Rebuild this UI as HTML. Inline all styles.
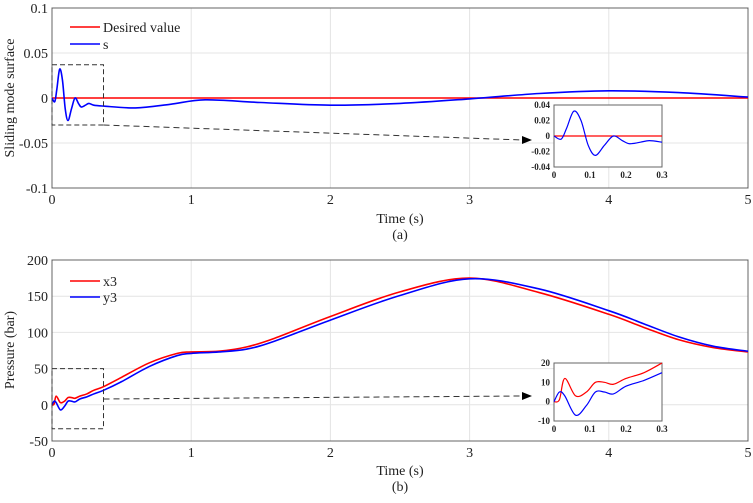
<!DOCTYPE html>
<html><head><meta charset="utf-8"><style>
body{margin:0;background:#fff;}
svg, svg text{font-family:"Liberation Serif","DejaVu Serif",serif;}
</style></head><body>
<svg id="c" width="753" height="498"></svg>
<script>
// ---- data ----
const sT=[0,0.02,0.035,0.055,0.075,0.095,0.115,0.14,0.165,0.19,0.21,0.24,0.265,0.3,0.37,0.6,0.85,1.1,1.5,2.0,2.5,3.0,3.5,4.0,4.5,5.0];
const sV=[0,-0.004,0.01,0.032,0.02,-0.012,-0.025,-0.012,0,-0.006,-0.01,-0.008,-0.006,-0.008,-0.009,-0.011,-0.007,-0.002,-0.005,-0.008,-0.006,-0.001,0.005,0.008,0.006,0.001];
const pT=[0,0.015,0.03,0.06,0.09,0.115,0.14,0.165,0.2,0.25,0.3,0.37,0.5,0.7,0.9,1.0,1.2,1.4,1.6,2.0,2.5,3.0,3.5,4.0,4.25,4.5,4.75,5.0];
const x3V=[0,1,12,3,5,10,10,9,12,15,20,25,38,58,71,73,74,80,92,122,156,175,155,125,107,90,79,73];
const y3V=[0,5,3,-7,-2,5,5,4,8,11,15,20,32,53,68,71,73,77,88,117,151,174,160,130,112,94,81,74];
const topTicksY=["0.1","0.05","0","-0.05","-0.1"], topTickVals=[0.1,0.05,0,-0.05,-0.1];
const botTickVals=[200,150,100,50,0,-50];
const xTickVals=[0,1,2,3,4,5];
const insTopY=[0.04,0.02,0,-0.02,-0.04], insTopYL=["0.04","0.02","0","-0.02","-0.04"];
const insBotY=[20,10,0,-10];
const insX=[0,0.1,0.2,0.3];

const svg=document.getElementById('c');const NS='http://www.w3.org/2000/svg';
function el(t,a,p){const e=document.createElementNS(NS,t);for(const k in a)e.setAttribute(k,a[k]);(p||svg).appendChild(e);return e;}
function txt(x,y,s,a,size,w){const e=el('text',{x:x,y:y,'text-anchor':a||'middle','font-size':size||14,'font-weight':w||'normal',fill:'#222','font-family':'Liberation Serif, DejaVu Serif, serif'});e.textContent=s;return e;}
function lin(d0,d1,r0,r1){return v=>r0+(v-d0)/(d1-d0)*(r1-r0);}
function path(xs,ys,X,Y,xmax){
  const P=[];for(let i=0;i<xs.length;i++){if(xmax!==undefined&&xs[i]>xmax+1e-9)break;P.push([X(xs[i]),Y(ys[i])]);}
  let d='M'+P[0][0]+','+P[0][1];
  for(let i=0;i<P.length-1;i++){const p0=P[Math.max(0,i-1)],p1=P[i],p2=P[i+1],p3=P[Math.min(P.length-1,i+2)];
    d+=' C'+(p1[0]+(p2[0]-p0[0])/6)+','+(p1[1]+(p2[1]-p0[1])/6)+' '+(p2[0]-(p3[0]-p1[0])/6)+','+(p2[1]-(p3[1]-p1[1])/6)+' '+p2[0]+','+p2[1];}
  return d;}
const L=52,R=748;
const X=lin(0,5,L,R);
function axes(top,bot,yvals,ylabels,Y){
  el('rect',{x:L,y:top,width:R-L,height:bot-top,fill:'#fff',stroke:'#444','stroke-width':0.8});
  xTickVals.forEach(v=>{const g=el('line',{x1:X(v),x2:X(v),y1:top,y2:bot,stroke:'#e4e4e4'});
    const t=txt(X(v),bot+16,String(v));});
  yvals.forEach((v,i)=>{el('line',{x1:L,x2:R,y1:Y(v),y2:Y(v),stroke:'#e4e4e4'});
    const t=txt(L-4,Y(v)+5,ylabels[i],'end');});
  el('rect',{x:L,y:top,width:R-L,height:bot-top,fill:'none',stroke:'#444','stroke-width':0.8});
}
// ---- top panel ----
const Yt=lin(-0.1,0.1,188,8);
axes(8,188,topTickVals,topTicksY,Yt);
el('line',{x1:L,x2:R,y1:Yt(0),y2:Yt(0),stroke:'#f00','stroke-width':1.5,});
el('path',{d:path(sT,sV,X,Yt),fill:'none',stroke:'#00f','stroke-width':1.6,});
el('line',{x1:70,x2:100,y1:27,y2:27,stroke:'#f00','stroke-width':1.5});txt(103,32,'Desired value','start');
el('line',{x1:70,x2:100,y1:44,y2:44,stroke:'#00f','stroke-width':1.6});txt(103,49,'s','start');
el('rect',{x:X(0),y:Yt(0.037),width:X(0.37)-X(0),height:Yt(-0.03)-Yt(0.037),fill:'none',stroke:'#333','stroke-dasharray':'5,3',});
el('line',{x1:X(0.37),y1:Yt(-0.03),x2:522,y2:140,stroke:'#333','stroke-dasharray':'6,4'});
el('polygon',{points:'532,140 522,136 522,144',fill:'#000'});
txt(400,223,'Time (s)');
txt(400,239,'(a)');
const ya=txt(0,0,'Sliding mode surface');ya.setAttribute('transform','translate(14,98) rotate(-90)');
{const iX=lin(0,0.3,554,662),iY=lin(-0.04,0.04,167,105);
 el('rect',{x:554,y:105,width:108,height:62,fill:'#fff',stroke:'#666',});
 insTopY.forEach((v,i)=>{txt(550,iY(v)+3,insTopYL[i],'end',9,'bold');});
 insX.forEach(v=>txt(iX(v),178,String(v),'middle',9,'bold'));
 el('line',{x1:554,x2:662,y1:iY(0),y2:iY(0),stroke:'#f00','stroke-width':1.2});
 el('path',{d:path(sT,sV,iX,iY,0.3),fill:'none',stroke:'#00f','stroke-width':1.2});}
// ---- bottom panel ----
const Yb=lin(-50,200,441,260);
axes(260,441,botTickVals,botTickVals.map(String),Yb);
el('path',{d:path(pT,x3V,X,Yb),fill:'none',stroke:'#f00','stroke-width':1.6,});
el('path',{d:path(pT,y3V,X,Yb),fill:'none',stroke:'#00f','stroke-width':1.6,});
el('line',{x1:70,x2:100,y1:281,y2:281,stroke:'#f00','stroke-width':1.5});txt(103,286,'x3','start');
el('line',{x1:70,x2:100,y1:297,y2:297,stroke:'#00f','stroke-width':1.6});txt(103,302,'y3','start');
el('rect',{x:X(0),y:Yb(50),width:X(0.37)-X(0),height:Yb(-33)-Yb(50),fill:'none',stroke:'#333','stroke-dasharray':'5,3',});
el('line',{x1:X(0.37),y1:Yb(8),x2:522,y2:396,stroke:'#333','stroke-dasharray':'6,4'});
el('polygon',{points:'532,396 522,392 522,400',fill:'#000'});
txt(400,475,'Time (s)');
txt(400,491,'(b)');
const yb=txt(0,0,'Pressure (bar)');yb.setAttribute('transform','translate(14,350) rotate(-90)');
{const iX=lin(0,0.3,554,662),iY=lin(-10,20,421,363);
 el('rect',{x:554,y:363,width:108,height:58,fill:'#fff',stroke:'#666',});
 insBotY.forEach(v=>txt(550,iY(v)+3,String(v),'end',9,'bold'));
 insX.forEach(v=>txt(iX(v),432,String(v),'middle',9,'bold'));
 el('path',{d:path(pT,x3V,iX,iY,0.3),fill:'none',stroke:'#f00','stroke-width':1.2});
 el('path',{d:path(pT,y3V,iX,iY,0.3),fill:'none',stroke:'#00f','stroke-width':1.2});}
</script>
</body></html>
